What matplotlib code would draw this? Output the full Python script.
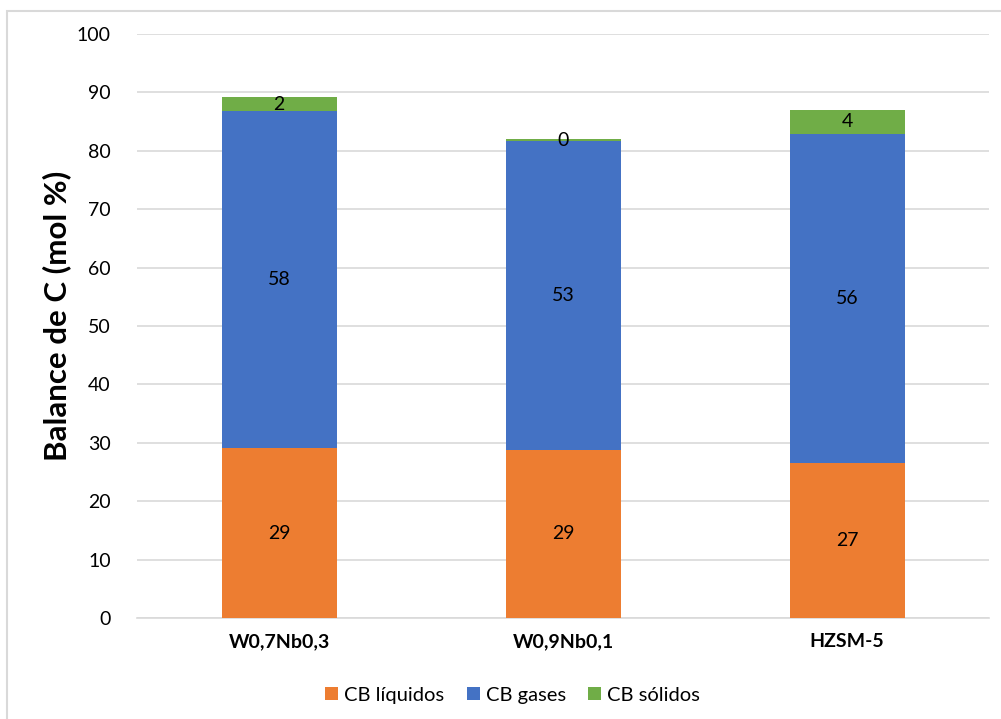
import numpy as np
import matplotlib
matplotlib.use('Agg')
import matplotlib.pyplot as plt
from matplotlib.patches import Rectangle

plt.rcParams['font.family'] = ['Lato', 'DejaVu Sans']

catalysts = ['W0,7Nb0,3', 'W0,9Nb0,1', 'HZSM-5']
cb_liquidos = [29.1, 28.8, 26.6]
cb_gases = [57.7, 52.8, 56.3]
cb_solidos = [2.4, 0.4, 4.1]
series_names = ['CB líquidos', 'CB gases', 'CB sólidos']
colors = ['#ED7D31', '#4472C4', '#70AD47']

fig = plt.figure(figsize=(10.01, 7.19), dpi=100)
ax = fig.add_axes([0.137, 0.1405, 0.851, 0.8122])

x = np.arange(len(catalysts))
bottom = np.zeros(len(catalysts))
for vals, name, col in zip([cb_liquidos, cb_gases, cb_solidos], series_names, colors):
	vals = np.array(vals)
	ax.bar(x, vals, 0.405, bottom=bottom, color=col, label=name, zorder=3)
	for xi, b, v in zip(x, bottom, vals):
		ax.text(xi, b + v / 2, '%d' % round(v), ha='center', va='center',
				fontsize=14, color='black', zorder=4)
	bottom = bottom + vals

ax.set_xlim(-0.5, len(catalysts) - 0.5)
ax.set_ylim(0, 100)
ax.set_yticks(np.arange(0, 101, 10))
ax.yaxis.grid(True, color='#d9d9d9', linewidth=1.2, zorder=0)
ax.set_axisbelow(True)
for s in ['top', 'right', 'left']:
	ax.spines[s].set_visible(False)
ax.spines['bottom'].set_color('#d9d9d9')
ax.spines['bottom'].set_linewidth(1.2)
ax.tick_params(axis='both', length=0, labelsize=14, colors='#000000')
ax.tick_params(axis='y', pad=19)
ax.tick_params(axis='x', pad=11)
ax.set_xticks(x)
ax.set_xticklabels(catalysts, fontweight='bold', fontsize=14)

fig.text(0.057, 0.56, 'Balance de C (mol %)', rotation=90, ha='center', va='center',
		 fontsize=22.5, fontweight='bold')

leg = fig.legend(loc='center', bbox_to_anchor=(0.512, 0.033), ncol=3, frameon=False,
				 fontsize=14.5, handlelength=0.65, handleheight=0.65, handletextpad=0.3,
				 columnspacing=1.1)

# chart frame
fig.patches.append(Rectangle((0.007, -0.1), 1.1, 1.085, transform=fig.transFigure,
							 fill=False, edgecolor='#d9d9d9', linewidth=1.5))

fig.savefig('out.png', dpi=100)
